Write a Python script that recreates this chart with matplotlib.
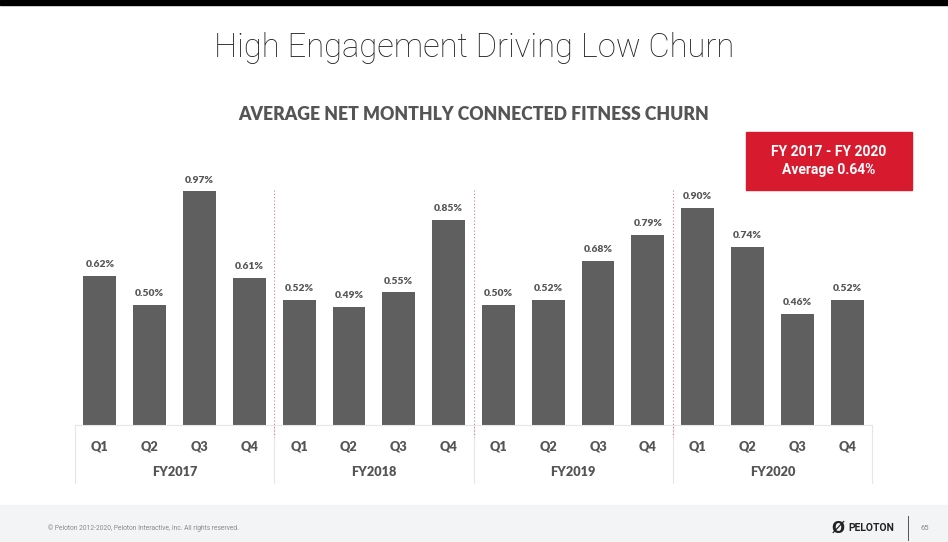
import matplotlib
matplotlib.use("Agg")
import matplotlib.pyplot as plt
from matplotlib.patches import Rectangle
from matplotlib.lines import Line2D
import matplotlib.transforms as mtransforms

# ---- data ----
years = ["FY2017", "FY2018", "FY2019", "FY2020"]
quarters = ["Q1", "Q2", "Q3", "Q4"]
churn = [0.62, 0.50, 0.97, 0.61,
         0.52, 0.49, 0.55, 0.85,
         0.50, 0.52, 0.68, 0.79,
         0.90, 0.74, 0.46, 0.52]
title = "High Engagement Driving Low Churn"
subtitle = "AVERAGE NET MONTHLY CONNECTED FITNESS CHURN"
box_text = "FY 2017 - FY 2020\nAverage 0.64%"
footer = "© Peloton 2012-2020, Peloton Interactive, Inc. All rights reserved."
page = "65"

W, H = 948, 542
fig = plt.figure(figsize=(W / 100, H / 100), dpi=100)
fig.patch.set_facecolor("white")

def fx(px):
    return px / W

def fy(py):
    return 1 - py / H

LBL = "#555555"

# frame elements
fig.add_artist(Rectangle((0, fy(5)), 1, 5 / H, transform=fig.transFigure, color="black", zorder=0))
fig.add_artist(Rectangle((0, 0), 1, fy(505), transform=fig.transFigure, color="#f3f4f6", zorder=0))

fig.text(0.5, fy(48), title, ha="center", va="center", fontsize=23.6,
         family="Roboto", fontweight="light", color="#222222")
fig.text(0.5, fy(114), subtitle, ha="center", va="center", fontsize=12.7,
         family="Lato", fontweight="heavy", color=LBL)

# axes: x from 75 to 872 px, baseline at 425 px
left, right, base = 75, 872, 425
ax = fig.add_axes([fx(left), fy(base), fx(right - left), 241 / H])
n = len(churn)
xs = list(range(n))
ax.bar(xs, churn, width=0.66, color="#5f5f5f", zorder=2)
ax.set_xlim(-0.5, n - 0.5)
ax.set_ylim(0, 1.0)
ax.axis("off")

for x, v in zip(xs, churn):
    ax.annotate(f"{v:.2f}%", (x, v), xytext=(0, 4.8), textcoords="offset points",
                ha="center", va="bottom", fontsize=7.4, family="Lato",
                fontweight="heavy", color=LBL, annotation_clip=False)

# label area with blended transforms (x data, y figure)
trans = mtransforms.blended_transform_factory(ax.transData, fig.transFigure)
for i, x in enumerate(xs):
    ax.text(x, fy(447), quarters[i % 4], transform=trans, ha="center", va="center",
            fontsize=9.2, family="Lato", fontweight="heavy", color=LBL, clip_on=False)
for g, yr in enumerate(years):
    ax.text(g * 4 + 1.5, fy(472), yr, transform=trans, ha="center", va="center",
            fontsize=9.2, family="Lato", fontweight="heavy", color=LBL, clip_on=False)

# baseline & separators
fig.add_artist(Line2D([fx(left), fx(right)], [fy(base), fy(base)], color="#e6e6e6", lw=0.8))
for g in range(len(years) + 1):
    xb = g * 4 - 0.5
    ax.plot([xb, xb], [fy(base), fy(483)], transform=trans, color="#e6e6e6", lw=0.8,
            clip_on=False, zorder=1)
for g in range(1, len(years)):
    xb = g * 4 - 0.5
    ax.plot([xb, xb], [fy(190), fy(437)], transform=trans, color="#e07a85", lw=0.8,
            ls=(0, (1, 2)), clip_on=False, zorder=1)

# red average box
fig.add_artist(Rectangle((fx(746), fy(190)), fx(166), 58 / H, transform=fig.transFigure,
                         color="#d71a2e", zorder=3))
fig.text(fx(829), fy(161), box_text, ha="center", va="center", fontsize=10,
         family="Roboto", fontweight="bold", color="white", linespacing=1.35, zorder=4)

# footer
fig.text(fx(48), fy(528), footer, ha="left", va="center", fontsize=4.8,
         family="Roboto", color="#8a8a8a")
fig.text(fx(848), fy(528), "PELOTON", ha="left", va="center", fontsize=7.5,
         family="Roboto", fontweight="bold", color="#222222")
fig.text(fx(838), fy(528), "Ø", ha="center", va="center", fontsize=11,
         family="DejaVu Sans", fontweight="bold", color="#222222")
fig.add_artist(Line2D([fx(908), fx(908)], [fy(516), fy(540)], color="#555555", lw=0.7))
fig.text(fx(925), fy(528), page, ha="center", va="center", fontsize=5.5,
         family="Roboto", color="#8a8a8a")

fig.savefig("out.png", dpi=100, facecolor="white")
